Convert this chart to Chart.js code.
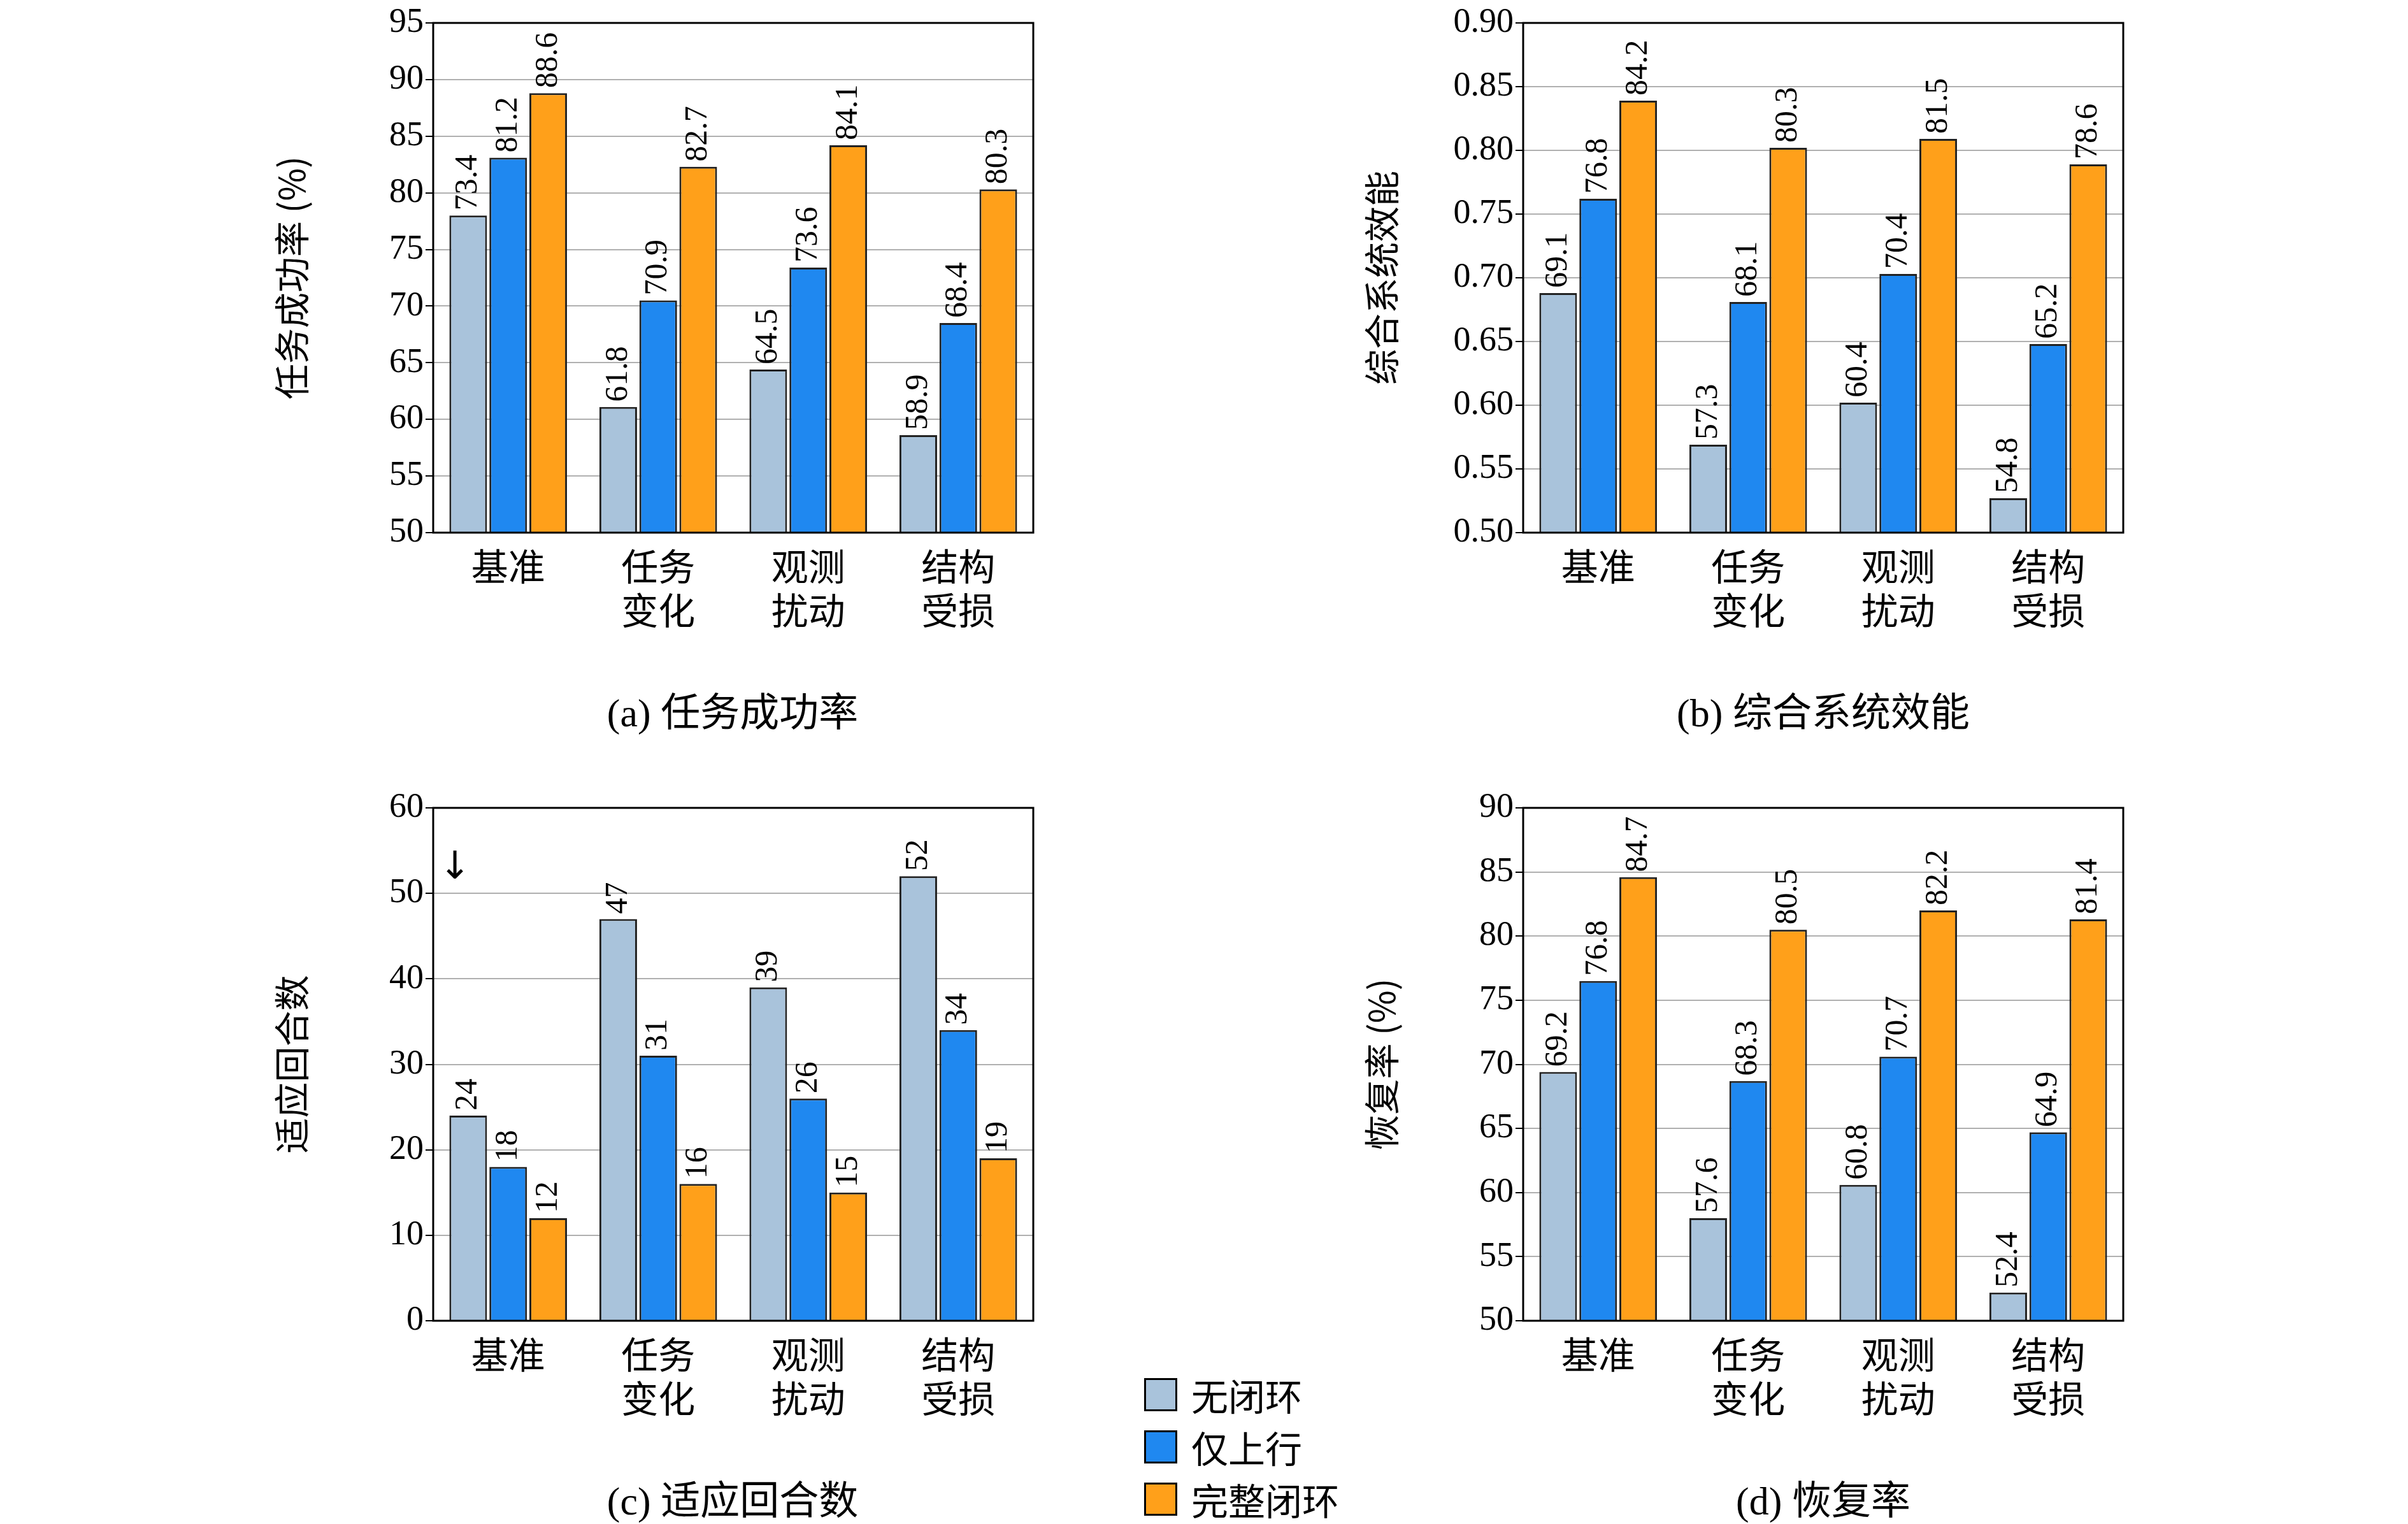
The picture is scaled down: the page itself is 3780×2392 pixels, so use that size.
<!DOCTYPE html>
<html><head><meta charset="utf-8">
<script src="https://cdn.jsdelivr.net/npm/chart.js@4/dist/chart.umd.min.js"></script>
<style>
body{margin:0;background:#fff;width:3780px;height:2392px;position:relative;overflow:hidden;font-family:"Liberation Serif","Noto Sans CJK SC",serif}
.c{position:absolute}
.cap{position:absolute;font-size:62px;transform:translate(-50%,-50%);white-space:nowrap}
.lg{position:absolute;left:1796px;font-size:58px;display:flex;align-items:center;transform:translateY(-50%)}
.lg span{display:inline-block;width:46px;height:46px;border:3px solid #000;margin-right:22px}
</style></head><body>
<div class="c" style="left:420px;top:0"><canvas id="a"></canvas></div>
<div class="c" style="left:2131px;top:0"><canvas id="b"></canvas></div>
<div class="c" style="left:420px;top:1232px"><canvas id="c"></canvas></div>
<div class="c" style="left:2131px;top:1232px"><canvas id="d"></canvas></div>
<div class="cap" style="left:1150px;top:1113px">(a) 任务成功率</div>
<div class="cap" style="left:2862px;top:1113px">(b) 综合系统效能</div>
<div class="cap" style="left:1150px;top:2350px">(c) 适应回合数</div>
<div class="cap" style="left:2862px;top:2350px">(d) 恢复率</div>
<div class="lg" style="top:2189px"><span style="background:#a9c3db"></span>无闭环</div>
<div class="lg" style="top:2271px"><span style="background:#1f88f0"></span>仅上行</div>
<div class="lg" style="top:2353px"><span style="background:#ffa01a"></span>完整闭环</div>
<script>
const categories=[['基准'],['任务','变化'],['观测','扰动'],['结构','受损']];
const seriesNames=['无闭环','仅上行','完整闭环'];
const colors=['#a9c3db','#1f88f0','#ffa01a'];
// panel a
const aNone=[78.0,61.1,64.4,58.6], aUp=[83.1,70.5,73.4,68.5], aFull=[88.8,82.3,84.2,80.3];
const aLblNone=['73.4','61.8','64.5','58.9'], aLblUp=['81.2','70.9','73.6','68.4'], aLblFull=['88.6','82.7','84.1','80.3'];
// panel b
const bNone=[0.688,0.569,0.602,0.527], bUp=[0.762,0.681,0.703,0.648], bFull=[0.839,0.802,0.809,0.789];
const bLblNone=['69.1','57.3','60.4','54.8'], bLblUp=['76.8','68.1','70.4','65.2'], bLblFull=['84.2','80.3','81.5','78.6'];
// panel c
const cNone=[24,47,39,52], cUp=[18,31,26,34], cFull=[12,16,15,19];
const cLblNone=['24','47','39','52'], cLblUp=['18','31','26','34'], cLblFull=['12','16','15','19'];
// panel d
const dNone=[69.4,58.0,60.6,52.2], dUp=[76.5,68.7,70.6,64.7], dFull=[84.6,80.5,82.0,81.3];
const dLblNone=['69.2','57.6','60.8','52.4'], dLblUp=['76.8','68.3','70.7','64.9'], dLblFull=['84.7','80.5','82.2','81.4'];

const plug={id:'p',afterDatasetsDraw(ch){
 const ctx=ch.ctx,a=ch.chartArea;
 ctx.save();ctx.strokeStyle='#000';ctx.lineWidth=3;ctx.strokeRect(a.left,a.top,a.right-a.left,a.bottom-a.top);
 ctx.font='50px "Liberation Serif"';ctx.fillStyle='#000';ctx.textAlign='left';ctx.textBaseline='middle';
 ch.data.datasets.forEach((ds,i)=>{ch.getDatasetMeta(i).data.forEach((el,j)=>{
   ctx.save();ctx.translate(el.x,el.y-8);ctx.rotate(-Math.PI/2);ctx.fillText(ds.lbl[j],0,0);ctx.restore();});});
 if(ch.options.arrow){ctx.font='60px "DejaVu Sans"';ctx.textAlign='center';ctx.fillText('↓',a.left+34,a.top+95);}
 ctx.restore();}};

function mk(id,vals,lbls,min,max,step,title,dec,h,arrow){
 const el=document.getElementById(id);el.width=260+942+20;el.height=36+h+200;
 new Chart(el,{type:'bar',plugins:[plug],
  data:{labels:categories,datasets:vals.map((v,i)=>({label:seriesNames[i],data:v,lbl:lbls[i],backgroundColor:colors[i],borderColor:'#222',borderWidth:3,barPercentage:0.94,categoryPercentage:0.8}))},
  options:{responsive:false,animation:false,arrow:arrow,layout:{padding:{top:36,right:20}},
   plugins:{legend:{display:false},tooltip:{enabled:false}},
   scales:{x:{grid:{display:false},border:{display:false},afterFit(s){s.height=200},ticks:{color:'#000',font:{size:58,family:'"Noto Sans CJK SC"'},padding:10}},
    y:{min:min,max:max,afterFit(s){s.width=260},border:{display:false},grid:{color:'#b0b0b0',lineWidth:2,tickLength:12,tickColor:'#000'},
     ticks:{stepSize:step,color:'#000',font:{size:54,family:'"Liberation Serif"'},callback:v=>v.toFixed(dec)},
     title:{display:true,text:title,color:'#000',font:{size:56,family:'"Noto Sans CJK SC"'}}}}}});
}
mk('a',[aNone,aUp,aFull],[aLblNone,aLblUp,aLblFull],50,95,5,'任务成功率 (%)',0,800,false);
mk('b',[bNone,bUp,bFull],[bLblNone,bLblUp,bLblFull],0.5,0.9,0.05,'综合系统效能',2,800,false);
mk('c',[cNone,cUp,cFull],[cLblNone,cLblUp,cLblFull],0,60,10,'适应回合数',0,805,true);
mk('d',[dNone,dUp,dFull],[dLblNone,dLblUp,dLblFull],50,90,5,'恢复率 (%)',0,805,false);
</script></body></html>
